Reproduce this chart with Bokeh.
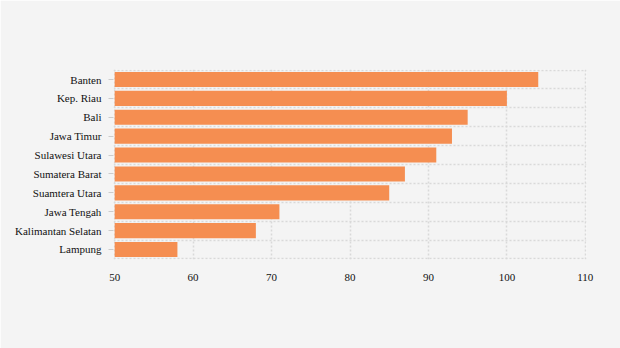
from bokeh.plotting import figure
from bokeh.models import FixedTicker, ColumnDataSource, Range1d
from bokeh.embed import file_html
from bokeh.resources import INLINE

provinces = ["Banten", "Kep. Riau", "Bali", "Jawa Timur", "Sulawesi Utara",
             "Sumatera Barat", "Suamtera Utara", "Jawa Tengah",
             "Kalimantan Selatan", "Lampung"]
values = [104, 100, 95, 93, 91, 87, 85, 71, 68, 58]
x_ticks = [50, 60, 70, 80, 90, 100, 110]

n = len(provinces)
ypos = [n - 1 - i for i in range(n)]
src = ColumnDataSource(dict(y=ypos, right=values, name=provinces))

p = figure(width=620, height=348, output_backend="svg", toolbar_location=None,
           x_range=Range1d(49.85, 110.15), y_range=Range1d(-0.53, n - 0.47),
           min_border_left=113, min_border_right=34, min_border_top=69,
           min_border_bottom=89, background_fill_color="#f4f4f4",
           border_fill_color="#f4f4f4")
p.outline_line_color = None

p.hbar(y="y", left=50, right="right", height=0.8, source=src,
       fill_color="#F58E51", line_color=None)

FONT = "Liberation Serif"
p.xaxis.ticker = FixedTicker(ticks=x_ticks)
p.xaxis.axis_line_color = None
p.xaxis.major_tick_line_color = None
p.xaxis.minor_tick_line_color = None
p.xaxis.major_label_text_font = FONT
p.xaxis.major_label_text_font_size = "11px"
p.xaxis.major_label_text_color = "#111111"
p.xaxis.major_label_standoff = 8

p.yaxis.ticker = FixedTicker(ticks=ypos)
p.yaxis.major_label_overrides = {y: nm for y, nm in zip(ypos, provinces)}
p.yaxis.axis_line_color = None
p.yaxis.major_tick_line_color = "#cccccc"
p.yaxis.major_tick_out = 5
p.yaxis.major_tick_in = 0
p.yaxis.minor_tick_line_color = None
p.yaxis.major_label_text_font = FONT
p.yaxis.major_label_text_font_size = "11px"
p.yaxis.major_label_text_color = "#111111"
p.yaxis.major_label_standoff = 7

p.xgrid.ticker = FixedTicker(ticks=x_ticks)
p.ygrid.ticker = FixedTicker(ticks=[k - 0.5 for k in range(n + 1)])
for g in (p.xgrid, p.ygrid):
    g.grid_line_color = "#d9d9d9"
    g.grid_line_dash = "2 2"
    g.grid_line_width = 1.5
    g.level = "underlay"

open("out.html", "w").write(file_html(p, INLINE))
